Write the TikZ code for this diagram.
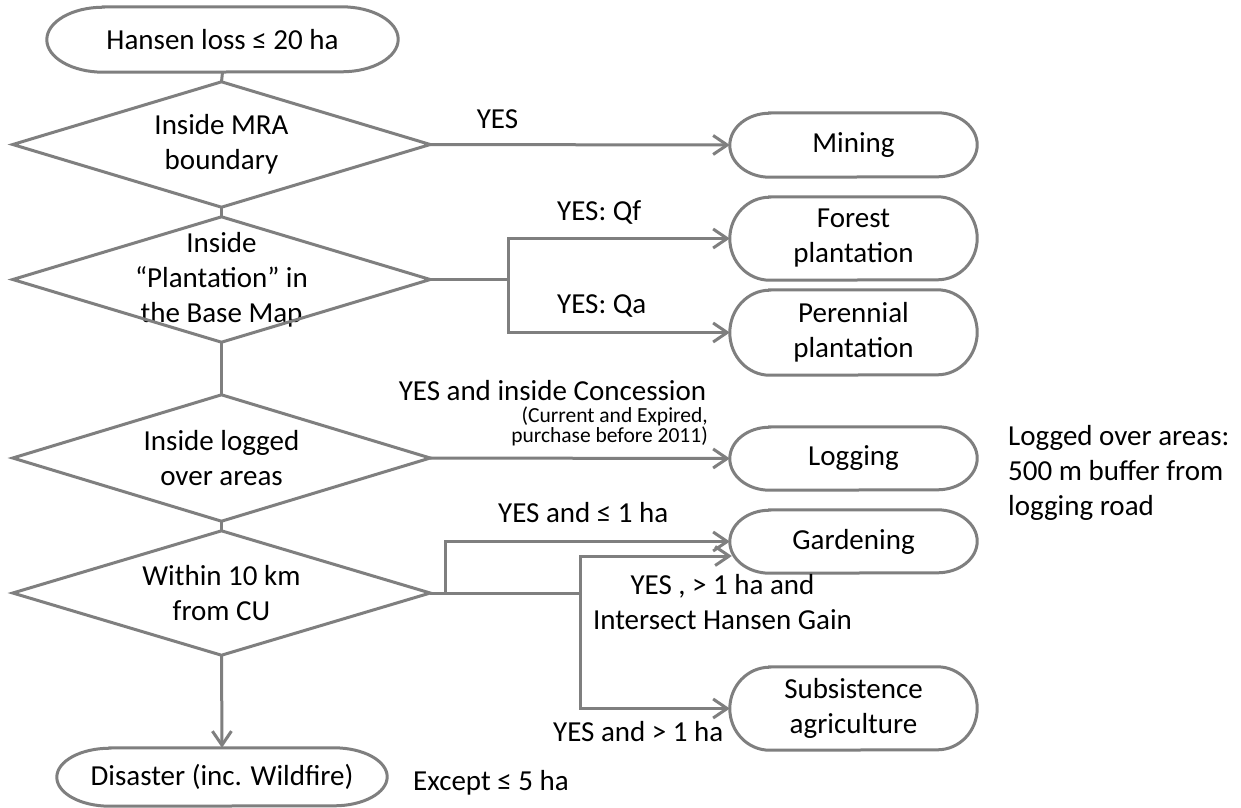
\documentclass[tikz,border=0pt]{standalone}
\usepackage{fontspec}
\setmainfont{Carlito}
\usetikzlibrary{arrows.meta,calc}
\definecolor{linegray}{RGB}{127,127,127}
\newcommand\mainfs{\fontsize{29}{35}\selectfont}
\newcommand\smallfs{\fontsize{21.5}{20}\selectfont}
\tikzset{
  flow/.style={draw=linegray, line width=3pt},
  arrowline/.style={flow, -{Straight Barb[length=14pt,width=19pt]}},
  boxtext/.style={shape=rectangle, inner sep=0pt, align=center, font=\mainfs},
  lbl/.style={inner sep=0pt, font=\mainfs},
}
% terminator box with elliptical ends: name, x, y, width, height, text
\newcommand\termbox[6]{%
  \node[boxtext, minimum width=#4pt, minimum height=#5pt] (#1) at (#2,#3) {#6};
  \pgfmathsetmacro\tbrx{0.161*#4}%
  \pgfmathsetmacro\tbry{#5/2}%
  \draw[flow] ($(#1.north west)+(\tbrx pt,0pt)$) -- ($(#1.north east)+(-\tbrx pt,0pt)$)
    arc[start angle=90, end angle=-90, x radius=\tbrx pt, y radius=\tbry pt]
    -- ($(#1.south west)+(\tbrx pt,0pt)$)
    arc[start angle=270, end angle=90, x radius=\tbrx pt, y radius=\tbry pt] -- cycle;
}
% decision diamond: name, x, y, width, height, text
\newcommand\decision[6]{%
  \node[boxtext, minimum width=#4pt, minimum height=#5pt] (#1) at (#2,#3) {#6};
  \draw[flow] (#1.north) -- (#1.east) -- (#1.south) -- (#1.west) -- cycle;
}
\begin{document}
\begin{tikzpicture}[x=1pt, y=-1pt]
  \fill[white] (0,0) rectangle (1241,807);
  \useasboundingbox (0,0) rectangle (1241,807);

  % main column
  \termbox{start}{222.5}{39.5}{351}{65}{Hansen loss ≤ 20 ha}
  \decision{inmra}{221.5}{144.5}{417}{125}{Inside MRA\\boundary}
  \decision{inplant}{221.5}{279.5}{417}{125}{Inside\\“Plantation” in\\the Base Map}
  \decision{inlog}{221.5}{458}{417}{126}{Inside logged\\over areas}
  \decision{nearcu}{221.5}{593}{417}{124}{Within 10 km\\from CU}
  \termbox{disaster}{222}{777}{330}{58}{Disaster (inc. Wildfire)}

  % outcomes
  \termbox{mining}{853.5}{145}{247}{64}{Mining}
  \termbox{forest}{853.5}{238.5}{247}{83}{Forest\\plantation}
  \termbox{perennial}{853.5}{332.5}{247}{85}{Perennial\\plantation}
  \termbox{logging}{853.5}{458.5}{247}{63}{Logging}
  \termbox{garden}{853.5}{541.5}{247}{63}{Gardening}
  \termbox{subsist}{853.5}{708.5}{247}{83}{Subsistence\\agriculture}

  % vertical flow
  \draw[flow] (start.south) -- (inmra.north);
  \draw[flow] (inmra.south) -- (inplant.north);
  \draw[flow] (inplant.south) -- (inlog.north);
  \draw[flow] (inlog.south) -- (nearcu.north);
  \draw[arrowline] (nearcu.south) -- (disaster.north);

  % branches
  \draw[arrowline] (inmra.east) -- (mining.west);
  \coordinate (plantsplit) at (508,279.5);
  \draw[arrowline] (inplant.east) -- (plantsplit) |- (forest.west);
  \draw[arrowline] (inplant.east) -- (plantsplit) |- (perennial.west);
  \draw[arrowline] (inlog.east) -- (logging.west);
  \coordinate (cusplitA) at (445,593);
  \coordinate (cusplitB) at (580,593);
  \coordinate (gardlow) at ($(garden.west)+(2,14.5)$);
  \draw[arrowline] (nearcu.east) -- (cusplitA) |- (garden.west);
  \draw[arrowline] (nearcu.east) -- (cusplitB) |- (gardlow);
  \draw[arrowline] (cusplitB) |- (subsist.west);

  % branch labels
  \node[lbl, anchor=base] (yesmra) at (497.5,128) {YES};
  \node[lbl, anchor=base west] (yesqf) at (557,220) {YES: Qf};
  \node[lbl, anchor=base west] (yesqa) at (557,313) {YES: Qa};
  \node[lbl, anchor=base] (yesconc) at (552.5,400) {YES and inside Concession};
  \node[lbl, font=\smallfs, align=right, anchor=east] (concnote) at (708,426)
    {(Current and Expired,\\purchase before 2011)};
  \node[lbl, anchor=base west] (yessmall) at (498,522) {YES and ≤ 1 ha};
  \node[lbl, align=center] (yesgain) at (722.5,602.5) {YES , > 1 ha and\\Intersect Hansen Gain};
  \node[lbl, anchor=base west] (yeslarge) at (553,741) {YES and > 1 ha};
  \node[lbl, anchor=base west] (except) at (413,790) {Except ≤ 5 ha};
  \node[lbl, align=left, anchor=west] (loggednote) at (1008,473)
    {Logged over areas:\\500 m buffer from\\logging road};
\end{tikzpicture}
\end{document}
